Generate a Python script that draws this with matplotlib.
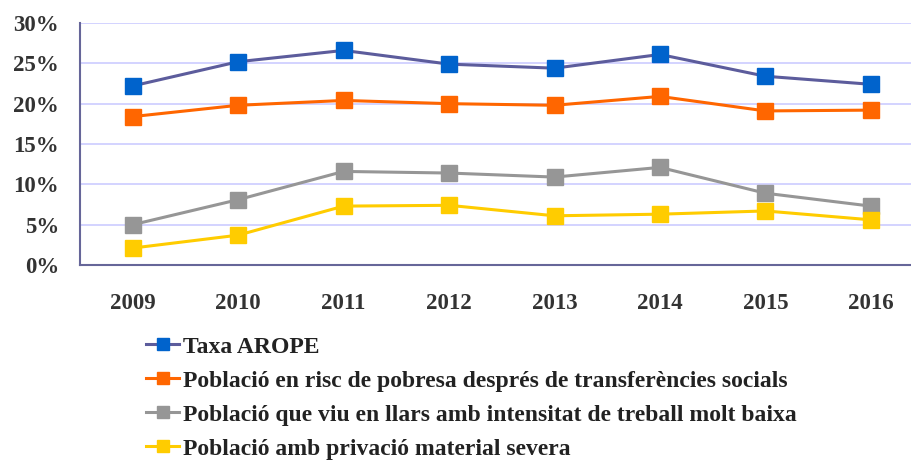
import numpy as np
import matplotlib.pyplot as plt
from matplotlib.ticker import PercentFormatter

years = ['2009', '2010', '2011', '2012', '2013', '2014', '2015', '2016']
arope = [22.2, 25.2, 26.6, 24.9, 24.4, 26.1, 23.4, 22.4]
risc_pobresa = [18.4, 19.8, 20.4, 20.0, 19.8, 20.9, 19.1, 19.2]
baixa_intensitat = [5.0, 8.1, 11.6, 11.4, 10.9, 12.1, 8.9, 7.3]
privacio_severa = [2.1, 3.7, 7.3, 7.4, 6.1, 6.3, 6.7, 5.6]

labels = ['Taxa AROPE',
          'Població en risc de pobresa després de transferències socials',
          'Població que viu en llars amb intensitat de treball molt baixa',
          'Població amb privació material severa']

plt.rcParams['font.family'] = ['Liberation Serif', 'DejaVu Serif']
plt.rcParams['font.weight'] = 'bold'

fig = plt.figure(figsize=(9.12, 4.61), dpi=100)
ax = fig.add_axes([80 / 912, (461 - 265) / 461, (912 - 80) / 912, (265 - 23) / 461])

x = np.arange(len(years))
series = [arope, risc_pobresa, baixa_intensitat, privacio_severa]
line_cols = ['#5c5c9c', '#ff6600', '#969696', '#ffcc00']
mark_cols = ['#0063cc', '#ff6600', '#969696', '#ffcc00']
for vals, lab, lc, mc in zip(series, labels, line_cols, mark_cols):
    ax.plot(x, vals, color=lc, lw=2.2, marker='s', ms=11,
            markerfacecolor=mc, markeredgecolor=mc, label=lab)

ax.set_ylim(0, 30)
ax.set_xlim(-0.5, 7.39)
ax.set_yticks(np.arange(0, 31, 5))
ax.yaxis.set_major_formatter(PercentFormatter(decimals=0))
ax.set_xticks(x)
ax.set_xticklabels(years)
ax.grid(axis='y', color='#ccccff', lw=1.2)
ax.set_axisbelow(True)
for s in ['top', 'right']:
    ax.spines[s].set_visible(False)
for s in ['left', 'bottom']:
    ax.spines[s].set_color('#666699')
    ax.spines[s].set_linewidth(1.5)
ax.tick_params(axis='y', length=0, pad=15, labelsize=16.5, labelcolor='#333333')
ax.tick_params(axis='x', length=0, pad=20, labelsize=16.5, labelcolor='#333333')

fig.legend(loc='upper left', bbox_to_anchor=(146 / 912, 1 - 336 / 461),
           frameon=False, fontsize=17, handlelength=1.4, handletextpad=0.15,
           labelspacing=0.53, borderaxespad=0, borderpad=0, markerscale=0.75)
for t in fig.legends[0].get_texts():
    t.set_color('#222222')

fig.savefig('out.png', dpi=100)
